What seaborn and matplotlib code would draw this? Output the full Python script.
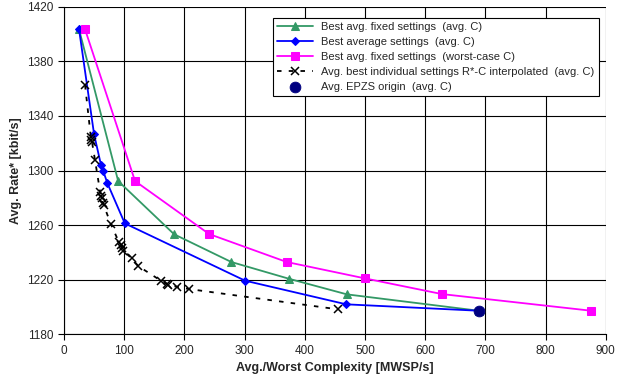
import numpy as np
import pandas as pd
import matplotlib
matplotlib.use('Agg')
import matplotlib.pyplot as plt
import seaborn as sb

# data
fixed_avg_x = [25, 90, 183, 278, 374, 470, 689]
fixed_avg_y = [1403.4, 1292.3, 1253.3, 1233.0, 1220.7, 1209.3, 1197.3]

best_avg_x = [25, 50, 61.5, 65, 72, 101, 301, 469, 689]
best_avg_y = [1403.4, 1326.5, 1304.0, 1299.9, 1290.8, 1261.3, 1219.3, 1202.0, 1197.3]

worst_x = [35, 118, 241, 370, 500, 628, 876]
worst_y = [1403.4, 1292.3, 1253.5, 1233.0, 1221.0, 1209.5, 1197.3]

interp_x = [35, 44.5, 45.5, 46.5, 51.5, 60, 61.5, 62.5, 64, 66, 78, 91.4, 94.2, 96.9, 98.5,
            112.5, 123.4, 161, 170.4, 173.3, 187, 207.6, 455.6]
interp_y = [1362.6, 1324.8, 1322.5, 1321.0, 1307.7, 1284.5, 1281.0, 1279.6, 1276.5, 1274.7,
            1260.6, 1247.4, 1245.4, 1243.0, 1241.2, 1235.7, 1230.0, 1219.3, 1216.8, 1216.3,
            1214.9, 1213.2, 1198.3]

epzs_x = [689]
epzs_y = [1197.3]

labels = ['Best avg. fixed settings  (avg. C)',
          'Best average settings  (avg. C)',
          'Best avg. fixed settings  (worst-case C)',
          'Avg. best individual settings R*-C interpolated  (avg. C)',
          'Avg. EPZS origin  (avg. C)']

sb.set_style('white')
plt.rcParams['font.family'] = ['Liberation Sans', 'DejaVu Sans']

fig = plt.figure(figsize=(6.25, 3.83), dpi=100)
ax = fig.add_axes([0.1024, 0.127, 0.8667, 0.8555])

sb.lineplot(x=fixed_avg_x, y=fixed_avg_y, ax=ax, sort=False, estimator=None, color='#339966',
            lw=1.3, marker='^', markersize=6, markeredgecolor='#339966', label=labels[0])
sb.lineplot(x=best_avg_x, y=best_avg_y, ax=ax, sort=False, estimator=None, color='#0000FF',
            lw=1.3, marker='D', markersize=4, markeredgecolor='#0000FF', label=labels[1])
sb.lineplot(x=worst_x, y=worst_y, ax=ax, sort=False, estimator=None, color='#FF00FF',
            lw=1.3, marker='s', markersize=6, markeredgecolor='#FF00FF', label=labels[2])
sb.lineplot(x=interp_x, y=interp_y, ax=ax, sort=False, estimator=None, color='black',
            lw=1.3, linestyle=(0, (2.5, 4)), marker='x', markersize=5.5,
            markeredgewidth=1.1, markeredgecolor='black', label=labels[3])
sb.scatterplot(x=epzs_x, y=epzs_y, ax=ax, color='#000080', s=60, edgecolor='#000080',
               zorder=5, label=labels[4])

ax.set_xlim(0, 900)
ax.set_ylim(1180, 1420)
ax.set_xticks(np.arange(0, 901, 100))
ax.set_yticks(np.arange(1180, 1421, 40))
ax.grid(True, color='black', lw=0.8)
ax.set_axisbelow(True)
for s in ax.spines.values():
    s.set_color('black')
    s.set_linewidth(0.8)
ax.spines['top'].set_visible(False)
ax.spines['right'].set_visible(False)
ax.tick_params(axis='both', direction='out', length=4, width=0.8, color='black',
               labelsize=8.5, bottom=True, left=True)
ax.set_xlabel('Avg./Worst Complexity [MWSP/s]', fontsize=9, fontweight='bold')
ax.set_ylabel('Avg. Rate* [kbit/s]', fontsize=9, fontweight='bold')

leg = ax.legend(loc='upper right', bbox_to_anchor=(0.988, 0.967), fontsize=8,
                frameon=True, fancybox=False, framealpha=1, edgecolor='black',
                handlelength=3.2, borderpad=0.4, labelspacing=0.45, borderaxespad=0)
leg.get_frame().set_linewidth(0.8)

fig.savefig('out.png', dpi=100)
